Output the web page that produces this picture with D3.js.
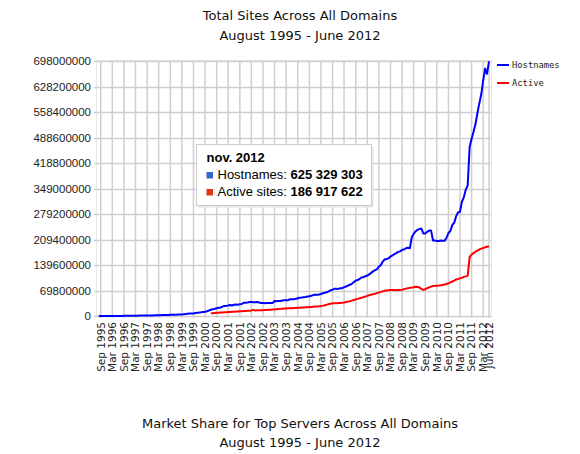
<!DOCTYPE html>
<html>
<head>
<meta charset="utf-8">
<script src="https://cdn.jsdelivr.net/npm/d3@7"></script>
<style>
  body { margin: 0; background: #fff; }
  svg { display: block; }
</style>
</head>
<body>
<svg id="chart" width="580" height="454"></svg>
<script>
// monthly values, millions of sites
const hostStart = "1995-08";
const hostnames = [
  0.019, 0.032, 0.074, 0.12, 0.12,
  0.10, 0.14, 0.18, 0.21, 0.24, 0.25, 0.30, 0.34, 0.40, 0.46, 0.53, 0.60,
  0.65, 0.74, 0.88, 1.00, 1.05, 1.12, 1.20, 1.27, 1.36, 1.46, 1.50, 1.68,
  1.83, 2.0, 2.2, 2.3, 2.4, 2.5, 2.6, 2.8, 3.1, 3.4, 3.6, 3.7,
  4.1, 4.3, 4.3, 4.9, 5.3, 6.2, 6.6, 7.1, 7.1, 8.1, 8.6, 9.6,
  10.0, 11.2, 11.9, 13.1, 15.0, 17.1, 18.2, 19.8, 21.2, 22.3, 23.2, 25.7,
  27.6, 28.0, 28.7, 29.9, 28.7, 31.1, 31.3, 30.8, 32.4, 33.1, 36.3, 36.5,
  36.7, 38.1, 38.4, 37.6, 37.9, 38.1, 37.2, 35.8, 35.5, 35.0, 35.4, 35.5,
  35.9, 35.9, 40.9, 40.4, 40.9, 40.9, 42.3, 42.8, 43.0, 43.3, 45.9, 46.1,
  46.1, 47.2, 48.7, 50.0, 50.6, 51.6, 52.1, 53.3, 54.1, 55.2, 57.3, 58.2,
  58.0, 59.1, 60.3, 62.3, 63.5, 64.8, 67.6, 70.4, 72.0, 74.4, 74.4, 74.2,
  76.2, 76.2, 79.0, 80.7, 83.4, 85.5, 88.2, 92.6, 96.9, 98.4, 101.4, 105.2,
  106.9, 108.8, 110.8, 113.7, 118.0, 122.1, 125.6, 127.6, 135.2, 139.1, 149.1, 155.2,
  155.6, 158.2, 162.7, 165.7, 169.4, 172.3, 175.5, 176.9, 181.3, 182.2, 185.5, 186.7,
  185.5, 215.7, 224.7, 231.5, 235.9, 238.0, 239.6, 225.9, 226.1, 230.4, 233.8, 233.8,
  206.7, 207.0, 205.0, 205.4, 206.7, 206.0, 205.7, 213.5, 227.2, 232.8, 249.4, 255.3,
  273.3, 284.1, 284.6, 312.7, 324.7, 346.0, 357.3, 463.0, 485.2, 504.1, 525.6, 555.1,
  582.7, 607.5, 644.3, 677.2, 662.9, 697.1
];

const activeStart = "2000-06";
const active = [
  7.4, 7.8, 8.2, 8.6, 9.0, 9.4, 9.8,
  10.2, 10.5, 10.8, 11.2, 11.5, 11.9, 12.2, 12.5, 12.8, 13.2, 13.5, 13.8,
  14.2, 14.6, 15.0, 16.8, 15.2, 15.4, 15.6, 15.8, 16.0, 16.2, 16.5, 16.8,
  17.2, 17.6, 18.0, 18.5, 19.0, 19.5, 20.0, 20.3, 20.6, 20.9, 21.2, 21.5,
  21.8, 22.1, 22.4, 22.8, 23.1, 23.4, 23.8, 24.1, 24.5, 24.9, 25.4, 25.8,
  26.2, 26.8, 27.5, 28.4, 29.5, 31.0, 32.6, 33.8, 34.6, 35.0, 35.2, 35.5,
  35.8, 36.2, 37.0, 38.2, 39.4, 40.6, 42.0, 43.6, 45.2, 46.8, 48.4, 50.0,
  51.6, 53.2, 55.0, 56.8, 58.2, 59.6, 61.0, 62.6, 64.2, 66.0, 67.5, 69.0,
  70.0, 70.6, 71.0, 71.2, 71.0, 70.8, 71.2, 71.5, 72.0, 73.5, 75.0, 76.2,
  77.0, 77.8, 78.8, 80.2, 79.5, 78.0, 74.0, 71.5, 73.0, 76.0, 78.5, 80.5,
  82.0, 82.6, 83.0, 83.4, 84.0, 85.0, 86.0, 87.5, 89.5, 92.0, 94.5, 97.0,
  100.0, 101.5, 103.0, 104.5, 107.0, 108.5, 110.0, 162.0, 168.0, 172.0, 176.0, 179.0,
  182.0, 184.5, 186.0, 188.0, 189.5, 191.0
];

const yTicks = [0, 69800000, 139600000, 209400000, 279200000, 349000000,
  418800000, 488600000, 558400000, 628200000, 698000000];

const xTicks = [
  "Sep 1995", "Mar 1996", "Sep 1996", "Mar 1997", "Sep 1997", "Mar 1998",
  "Sep 1998", "Mar 1999", "Sep 1999", "Mar 2000", "Sep 2000", "Mar 2001",
  "Sep 2001", "Mar 2002", "Sep 2002", "Mar 2003", "Sep 2003", "Mar 2004",
  "Sep 2004", "Mar 2005", "Sep 2005", "Mar 2006", "Sep 2006", "Mar 2007",
  "Sep 2007", "Mar 2008", "Sep 2008", "Mar 2009", "Sep 2009", "Mar 2010",
  "Sep 2010", "Mar 2011", "Sep 2011", "Mar 2012", "Jun 2012"
];

const seriesNames = ["Hostnames", "Active"];
const seriesColors = ["#0000ff", "#ff0000"];

const tipTitle = "nov. 2012";
const tipRows = [
  { label: "Hostnames: ", value: "625 329 303", color: "#3366cc" },
  { label: "Active sites: ", value: "186 917 622", color: "#dc3912" }
];

const svg = d3.select("#chart");
const plot = { left: 96, right: 491, top: 61, bottom: 316 };

const parseMonth = d3.timeParse("%Y-%m");
const parseTick = d3.timeParse("%b %Y");

function toPoints(start, values) {
  const t0 = parseMonth(start);
  return values.map((v, i) => ({ date: d3.timeMonth.offset(t0, i), value: v * 1e6 }));
}

const hostData = toPoints(hostStart, hostnames);
const activeData = toPoints(activeStart, active);

const x = d3.scaleTime()
  .domain([parseMonth("1995-08"), parseMonth("2012-06")])
  .range([98.8, 489]);

const y = d3.scaleLinear()
  .domain([0, 698000000])
  .range([plot.bottom, plot.top]);

const grid = "#d3cdd0";

// horizontal grid
svg.append("g")
  .selectAll("line")
  .data(yTicks)
  .join("line")
  .attr("x1", plot.left - 2)
  .attr("x2", plot.right)
  .attr("y1", d => Math.round(y(d)) + 0.5)
  .attr("y2", d => Math.round(y(d)) + 0.5)
  .attr("stroke", grid)
  .attr("stroke-width", 1.5);

// vertical grid
const tickDates = xTicks.map(parseTick);
svg.append("g")
  .selectAll("line")
  .data(tickDates)
  .join("line")
  .attr("x1", d => x(d))
  .attr("x2", d => x(d))
  .attr("y1", plot.top)
  .attr("y2", plot.bottom + 2)
  .attr("stroke", grid)
  .attr("stroke-width", 1.5);

// frame
svg.append("rect")
  .attr("x", plot.left + 0.5)
  .attr("y", plot.top - 0.5)
  .attr("width", plot.right - plot.left)
  .attr("height", plot.bottom - plot.top + 1)
  .attr("fill", "none")
  .attr("stroke", "#cfcfcf")
  .attr("stroke-dasharray", "1,1");

// y labels
svg.append("g")
  .selectAll("text")
  .data(yTicks)
  .join("text")
  .attr("x", 91)
  .attr("y", d => y(d))
  .attr("dy", "0.36em")
  .attr("text-anchor", "end")
  .attr("font-family", "'Liberation Sans', Arial, sans-serif")
  .attr("font-size", "11.5px")
  .attr("fill", "#222")
  .text(d => d);

// x labels
svg.append("g")
  .selectAll("text")
  .data(xTicks)
  .join("text")
  .attr("transform", d => `translate(${x(parseTick(d))},322) rotate(-90)`)
  .attr("dy", "0.36em")
  .attr("text-anchor", "end")
  .attr("font-family", "'DejaVu Sans', Verdana, sans-serif")
  .attr("font-size", "10.5px")
  .attr("fill", "#222")
  .text(d => d);

// lines
const line = d3.line()
  .x(d => x(d.date))
  .y(d => y(d.value));

[hostData, activeData].forEach((data, i) => {
  svg.append("path")
    .datum(data)
    .attr("d", line)
    .attr("fill", "none")
    .attr("stroke", seriesColors[i])
    .attr("stroke-width", 2)
    .attr("stroke-linejoin", "round");
});

// legend
const legend = svg.append("g");
seriesNames.forEach((name, i) => {
  const ly = 65 + i * 18;
  legend.append("line")
    .attr("x1", 497).attr("x2", 509)
    .attr("y1", ly).attr("y2", ly)
    .attr("stroke", seriesColors[i])
    .attr("stroke-width", 2);
  legend.append("text")
    .attr("x", 512)
    .attr("y", ly)
    .attr("dy", "0.35em")
    .attr("font-family", "'DejaVu Sans Mono', monospace")
    .attr("font-size", "8.8px")
    .attr("fill", "#222")
    .text(name);
});

// titles
const titleFont = "'DejaVu Sans', Verdana, sans-serif";
[["Total Sites Across All Domains", 20], ["August 1995 - June 2012", 39.5],
 ["Market Share for Top Servers Across All Domains", 428], ["August 1995 - June 2012", 447]]
  .forEach(([t, ty]) => {
    svg.append("text")
      .attr("x", 300)
      .attr("y", ty)
      .attr("text-anchor", "middle")
      .attr("font-family", titleFont)
      .attr("font-size", "13px")
      .attr("fill", "#111")
      .text(t);
  });

// tooltip
const tip = svg.append("g").attr("transform", "translate(196.5,144.5)");
tip.append("rect")
  .attr("x", 2).attr("y", 2)
  .attr("width", 175).attr("height", 61)
  .attr("fill", "#e6e6e6");
tip.append("rect")
  .attr("width", 175).attr("height", 61)
  .attr("fill", "#fff")
  .attr("stroke", "#cccccc");
tip.append("text")
  .attr("x", 10).attr("y", 17)
  .attr("font-family", "'Liberation Sans', Arial, sans-serif")
  .attr("font-size", "13px")
  .attr("font-weight", "bold")
  .text(tipTitle);
tipRows.forEach((r, i) => {
  const ty = 34.5 + i * 17;
  tip.append("rect")
    .attr("x", 10).attr("y", ty - 7)
    .attr("width", 6.5).attr("height", 6.5)
    .attr("fill", r.color);
  const t = tip.append("text")
    .attr("x", 21).attr("y", ty)
    .attr("font-family", "'Liberation Sans', Arial, sans-serif")
    .attr("font-size", "13px")
    .attr("fill", "#000");
  t.append("tspan").text(r.label);
  t.append("tspan").attr("font-weight", "bold").text(r.value);
});
</script>
</body>
</html>
